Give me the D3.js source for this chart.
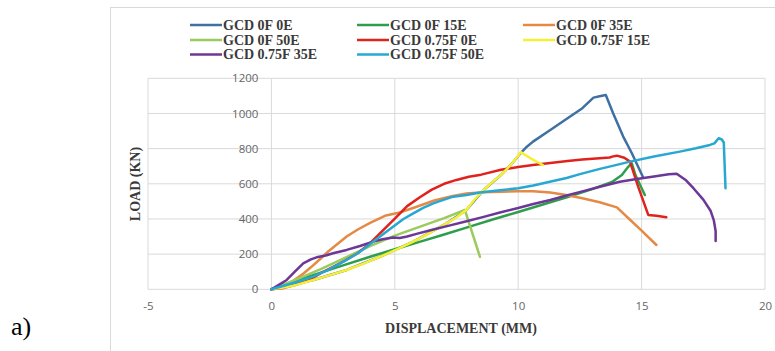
<!DOCTYPE html>
<html>
<head>
<meta charset="utf-8">
<script src="https://cdn.jsdelivr.net/npm/d3@7"></script>
<style>
  html, body { margin: 0; padding: 0; background: #fff; }
  svg { display: block; }
</style>
</head>
<body>
<svg id="chart" width="775" height="351"></svg>
<script>
// ---------- data ----------
const seriesNames = ["GCD 0F 0E", "GCD 0F 15E", "GCD 0F 35E", "GCD 0F 50E",
                     "GCD 0.75F 0E", "GCD 0.75F 15E", "GCD 0.75F 35E", "GCD 0.75F 50E"];
const seriesColors = ["#3f70a3", "#2f9e4c", "#e58a45", "#9acb5c",
                      "#e0221e", "#f6f032", "#6c3797", "#27a8d2"];

const xTicks = [-5, 0, 5, 10, 15, 20];
const yTicks = [0, 200, 400, 600, 800, 1000, 1200];

const gcd0f0eX = [0, 1.7, 3.05, 4.4, 5.75, 7.1, 7.9, 8.6, 9.3, 9.7, 10.1, 10.35, 10.6, 11.3, 12.0, 12.6, 13.05, 13.3, 13.55, 13.72, 13.85, 14.25, 14.6, 15.05];
const gcd0f0eY = [0, 53, 110, 185, 271, 375, 451, 565, 650, 707, 775, 811, 840, 906, 973, 1030, 1090, 1098, 1105, 1045, 1000, 870, 775, 640];

const gcd0f15eX = [0, 1, 2, 3, 4, 5, 6, 7, 8, 9, 10, 11, 12, 13, 13.8, 14.2, 14.45, 14.6, 14.75, 15.13];
const gcd0f15eY = [0, 50, 95, 140, 185, 228, 270, 312, 355, 398, 440, 482, 525, 570, 610, 650, 695, 717, 650, 536];

const gcd0f35eX = [0, 0.5, 0.9, 1.3, 1.6, 2.0, 2.3, 2.7, 3.05, 3.5, 4.0, 4.6, 5.2, 5.8, 6.6, 7.3, 7.9, 8.6, 9.3, 10, 10.6, 11.3, 12, 12.6, 13.3, 14.0, 14.5, 15.0, 15.6];
const gcd0f35eY = [0, 20, 50, 90, 125, 175, 215, 260, 300, 340, 378, 418, 437, 465, 505, 530, 545, 552, 555, 558, 558, 550, 535, 518, 495, 466, 400, 334, 252];

const gcd0f50eX = [0, 1, 2, 3, 4, 5, 6, 7, 7.84, 8.45];
const gcd0f50eY = [0, 55, 115, 180, 245, 305, 355, 405, 451, 185];

const gcd075f0eX = [0, 0.5, 1, 1.5, 2, 2.5, 3, 3.5, 4, 4.5, 5, 5.5, 6, 6.5, 7, 7.5, 8, 8.5, 9.3, 10, 10.6, 11.3, 12, 12.6, 13.3, 13.7, 13.85, 14.0, 14.3, 14.53, 14.86, 15.27, 15.6, 16.0];
const gcd075f0eY = [0, 8, 25, 50, 92, 128, 165, 205, 262, 332, 402, 473, 522, 567, 600, 622, 640, 652, 680, 695, 707, 718, 730, 738, 745, 750, 756, 760, 748, 726, 584, 423, 418, 410];

const gcd075f15eX = [0, 0.5, 1, 1.7, 2.4, 3.05, 3.7, 4.4, 5.1, 5.75, 6.4, 7.1, 7.5, 7.9, 8.2, 8.6, 9.0, 9.3, 9.7, 10.0, 10.1, 10.5, 11.0];
const gcd075f15eY = [0, 10, 25, 53, 82, 110, 145, 185, 228, 271, 320, 375, 410, 451, 505, 565, 615, 650, 707, 760, 780, 745, 707];

const gcd075f35eX = [0, 0.3, 0.62, 0.95, 1.29, 1.6, 1.83, 2.2, 2.5, 3.05, 3.59, 4.12, 4.5, 4.93, 5.2, 5.5, 5.88, 6.56, 7.2, 7.91, 8.6, 9.26, 10.0, 10.61, 11.3, 11.96, 12.6, 13.31, 14.12, 14.8, 15.5, 16.1, 16.42, 16.8, 17.1, 17.5, 17.8, 17.93, 18.0, 18.0];
const gcd075f35eY = [0, 25, 53, 100, 148, 170, 182, 192, 205, 224, 246, 271, 285, 295, 292, 300, 315, 340, 362, 387, 412, 437, 462, 485, 508, 533, 557, 583, 612, 627, 642, 654, 657, 620, 575, 510, 445, 390, 330, 275];

const gcd075f50eX = [0, 0.5, 1, 1.69, 2.3, 3.05, 3.5, 3.86, 4.4, 4.93, 5.35, 5.75, 6.15, 6.56, 7.0, 7.37, 7.91, 8.45, 9.26, 10.0, 10.61, 11.28, 11.96, 12.5, 13.31, 14.12, 14.53, 15.5, 16.55, 17.2, 17.77, 17.95, 18.12, 18.25, 18.33, 18.4];
const gcd075f50eY = [0, 20, 40, 72, 110, 167, 205, 242, 300, 356, 400, 432, 463, 489, 510, 527, 536, 550, 563, 575, 590, 612, 633, 655, 685, 712, 726, 755, 783, 802, 821, 830, 859, 852, 835, 575];

const seriesX = [gcd0f0eX, gcd0f15eX, gcd0f35eX, gcd0f50eX, gcd075f0eX, gcd075f15eX, gcd075f35eX, gcd075f50eX];
const seriesY = [gcd0f0eY, gcd0f15eY, gcd0f35eY, gcd0f50eY, gcd075f0eY, gcd075f15eY, gcd075f35eY, gcd075f50eY];

// ---------- layout ----------
const svg = d3.select("#chart");
const x = d3.scaleLinear().domain([-5, 20]).range([148, 765]);
const y = d3.scaleLinear().domain([0, 1200]).range([289.3, 78.3]);
const plain = d => String(d);

// outer chart frame
svg.append("rect").attr("x", 110.5).attr("y", 7.5).attr("width", 700).attr("height", 400)
  .attr("fill", "none").attr("stroke", "#d9d9d9").attr("stroke-width", 1);

// gridlines
svg.append("g").selectAll("line.h").data(yTicks).join("line")
  .attr("x1", x(-5)).attr("x2", x(20))
  .attr("y1", d => y(d)).attr("y2", d => y(d))
  .attr("stroke", "#d9d9d9").attr("stroke-width", 1);
svg.append("g").selectAll("line.v").data(xTicks).join("line")
  .attr("x1", d => x(d)).attr("x2", d => x(d))
  .attr("y1", y(0)).attr("y2", y(1200))
  .attr("stroke", "#d9d9d9").attr("stroke-width", 1);

// axes (labels only)
const yAxis = d3.axisLeft(y).tickValues(yTicks).tickFormat(plain).tickSize(0).tickPadding(13);
const gy = svg.append("g").attr("transform", `translate(${x(0)},0)`).call(yAxis);
gy.select(".domain").remove();
gy.selectAll("text").attr("fill", "#666").style("font-family", "'Open Sans', 'Liberation Sans', sans-serif").style("font-size", "11.5px");

const xAxis = d3.axisBottom(x).tickValues(xTicks).tickFormat(plain).tickSize(0).tickPadding(13);
const gx = svg.append("g").attr("transform", `translate(0,${y(0)})`).call(xAxis);
gx.select(".domain").remove();
gx.selectAll("text").attr("fill", "#666").style("font-family", "'Open Sans', 'Liberation Sans', sans-serif").style("font-size", "11.5px");

// lines
const line = d3.line().x(d => x(d[0])).y(d => y(d[1]));
seriesNames.forEach((name, i) => {
  const pts = seriesX[i].map((v, k) => [v, seriesY[i][k]]);
  svg.append("path").datum(pts)
    .attr("d", line)
    .attr("fill", "none")
    .attr("stroke", seriesColors[i])
    .attr("stroke-width", 2.5)
    .attr("stroke-linejoin", "round")
    .attr("stroke-linecap", "round");
});

// axis titles
svg.append("text").attr("x", 461).attr("y", 333).attr("text-anchor", "middle")
  .style("font-family", "'Liberation Serif', 'Times New Roman', serif")
  .style("font-size", "14px").style("font-weight", "bold").attr("fill", "#3a3a3a")
  .text("DISPLACEMENT (MM)");
svg.append("text").attr("transform", "translate(140,184) rotate(-90)").attr("text-anchor", "middle")
  .style("font-family", "'Liberation Serif', 'Times New Roman', serif")
  .style("font-size", "14px").style("font-weight", "bold").attr("fill", "#3a3a3a")
  .text("LOAD (KN)");

// legend
const legCols = [190, 357, 523];
const legRows = [25, 40, 54.5];
const lg = svg.append("g");
seriesNames.forEach((name, i) => {
  const cx = legCols[i % 3], cy = legRows[Math.floor(i / 3)];
  lg.append("line").attr("x1", cx).attr("x2", cx + 32).attr("y1", cy).attr("y2", cy)
    .attr("stroke", seriesColors[i]).attr("stroke-width", 2.5);
  lg.append("text").attr("x", cx + 33).attr("y", cy + 4.8)
    .style("font-family", "'Liberation Serif', 'Times New Roman', serif")
    .style("font-size", "14px").style("font-weight", "bold").attr("fill", "#3a3a3a")
    .text(name);
});

// panel label
svg.append("text").attr("x", 11).attr("y", 335)
  .style("font-family", "'Liberation Serif', 'Times New Roman', serif")
  .style("font-size", "26px").attr("fill", "#000")
  .text("a)");
</script>
</body>
</html>
